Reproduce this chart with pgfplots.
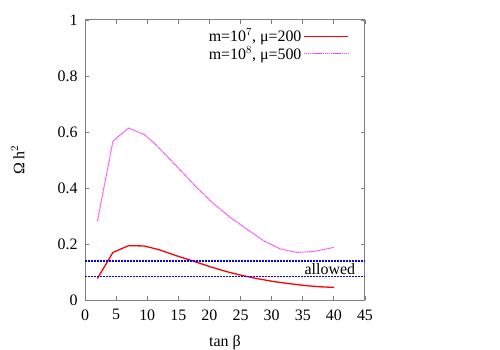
\documentclass[border=0pt]{standalone}
\usepackage{pgfplots}
\pgfplotsset{compat=1.18}
\usepackage{fontspec}
\setmainfont{Liberation Serif}
\def\ff{\fontsize{16}{18}\selectfont}
\definecolor{mag}{RGB}{255,60,255}
\begin{document}
\ff
\begin{tikzpicture}
\path[use as bounding box] (0,0) rectangle (500bp,350bp);
\begin{axis}[
  at={(85bp,50bp)}, anchor=south west,
  scale only axis, width=280bp, height=280bp,
  xmin=0, xmax=45, ymin=0, ymax=1,
  xtick={0,5,...,45}, ytick={0,0.2,0.4,0.6,0.8,1},
  yticklabels={0,0.2,0.4,0.6,0.8,1},
  /pgf/number format/assume math mode=true,
  tick align=inside, tick pos=both,
  major tick length=4bp,
  axis line style={gray, line width=1pt},
  every tick/.style={gray, line width=0.8pt},
  tick label style={font=\ff},
  xticklabel style={yshift=-4bp},
  yticklabel style={xshift=-2bp},
  xlabel={tan β}, ylabel={Ω h$^2$},
  label style={font=\ff},
  xlabel style={at={(axis description cs:0.5,-0.152)}, anchor=center},
  ylabel style={at={(axis description cs:-0.24,0.5)}, anchor=center},
  legend plot pos=right,
  legend cell align=right,
  legend style={draw=none, fill=none, at={(axis cs:42.9,0.985)}, anchor=north east,
    font=\ff, row sep=-2bp},
  legend image code/.code={\draw[#1] (10bp,0cm) -- (54bp,0cm);},
]
\addplot[red, line width=1.3pt] coordinates {
(2,0.077) (4.5,0.170) (7,0.194) (9.5,0.193) (12,0.179) (14.7,0.158) (17.4,0.139)
(20.1,0.119) (22.8,0.101) (25,0.089) (27.5,0.077) (30.3,0.066) (33,0.058) (35.6,0.051)
(38,0.047) (40,0.045)};
\addlegendentry{m=10$^7$, μ=200}
\addplot[mag, line width=1bp, dash pattern=on 1.3bp off 0.6bp] coordinates {
(2,0.282) (4.5,0.568) (7,0.614) (9.5,0.591) (11,0.563) (12.6,0.527) (15.3,0.464)
(18,0.401) (20.6,0.345) (23.3,0.296) (26,0.253) (28.7,0.212) (31.3,0.183) (34,0.170)
(36.7,0.173) (40,0.188)};
\addlegendentry{m=10$^8$, μ=500}
\addplot[blue, line width=1.2bp, dash pattern=on 1.5bp off 1.5bp, forget plot] coordinates {(0,0.139) (45,0.139)};
\addplot[blue, line width=1.2bp, dash pattern=on 1.5bp off 1.5bp, forget plot] coordinates {(0,0.085) (45,0.085)};
\node[anchor=east, font=\ff, inner sep=1bp] at (axis cs:43.6,0.112) {allowed};
\end{axis}
\end{tikzpicture}
\end{document}
